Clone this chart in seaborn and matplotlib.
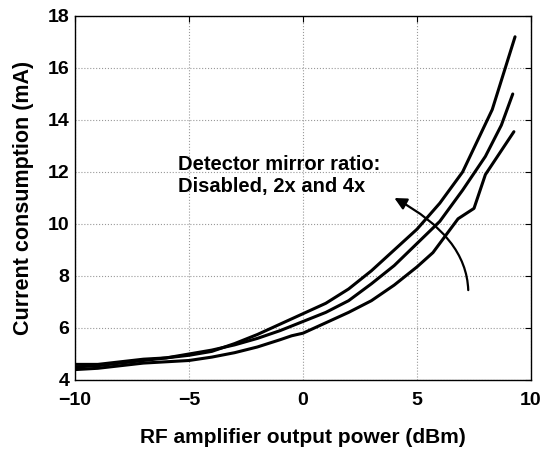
import matplotlib.pyplot as plt
import seaborn as sns
import pandas as pd

# (dBm vs mA)
x_disabled = [-10, -9, -8, -7, -6, -5, -4, -3, -2, -1, 0, 1, 2, 3, 4, 5, 6, 7, 8.3, 9.3]
y_disabled = [4.6, 4.6, 4.7, 4.8, 4.85, 4.95, 5.1, 5.4, 5.75, 6.15, 6.55, 6.95, 7.5, 8.2, 9.0, 9.8, 10.8, 12.0, 14.4, 17.2]

x_2x = [-10, -9, -8, -7, -6, -5, -4, -3, -2, -1, 0, 1, 2, 3, 4, 5, 6, 7, 8, 8.7, 9.2]
y_2x = [4.5, 4.55, 4.65, 4.75, 4.85, 5.0, 5.15, 5.35, 5.6, 5.9, 6.25, 6.6, 7.05, 7.7, 8.4, 9.25, 10.1, 11.3, 12.6, 13.8, 15.0]

x_4x = [-10, -9, -8, -7, -6, -5, -4, -3, -2, -1, -0.5, 0, 1, 2, 3, 4, 5, 5.7, 6.8, 7.5, 8.0, 9.25]
y_4x = [4.4, 4.45, 4.55, 4.65, 4.7, 4.75, 4.88, 5.05, 5.27, 5.55, 5.7, 5.8, 6.2, 6.6, 7.05, 7.65, 8.35, 8.9, 10.2, 10.6, 11.9, 13.55]

df = pd.concat([
    pd.DataFrame({'power': x_disabled, 'current': y_disabled, 'ratio': 'Disabled'}),
    pd.DataFrame({'power': x_2x, 'current': y_2x, 'ratio': '2x'}),
    pd.DataFrame({'power': x_4x, 'current': y_4x, 'ratio': '4x'}),
])

sns.set_style('white')
plt.rcParams['font.family'] = ['Liberation Sans', 'DejaVu Sans']
plt.rcParams['font.weight'] = 'bold'
plt.rcParams['text.color'] = 'black'
plt.rcParams['axes.labelcolor'] = 'black'

fig = plt.figure(figsize=(5.42, 4.49), dpi=100)
ax = fig.add_axes([0.1384, 0.1537, 0.8413, 0.8107])

sns.lineplot(data=df, x='power', y='current', hue='ratio',
             palette=['black', 'black', 'black'], linewidth=2.2,
             legend=False, sort=False, ax=ax)

ax.set_xlim(-10, 10)
ax.set_ylim(4, 18)
ax.set_xticks([-10, -5, 0, 5, 10])
ax.set_yticks([4, 6, 8, 10, 12, 14, 16, 18])
ax.grid(True, linestyle=':', color='#999999', linewidth=0.8)
for s in ax.spines.values():
    s.set_color('black')
    s.set_linewidth(1.0)
    s.set_visible(True)
ax.tick_params(direction='in', top=True, right=True, length=4,
               labelsize=14, colors='black', pad=4)
ax.tick_params(axis='x', pad=9)
for lab in ax.get_xticklabels() + ax.get_yticklabels():
    lab.set_fontweight('bold')

ax.set_xlabel('RF amplifier output power (dBm)', fontsize=15, fontweight='bold', labelpad=13)
ax.set_ylabel('Current consumption (mA)', fontsize=15.5, fontweight='bold', labelpad=10)

ax.text(-5.5, 12.65, 'Detector mirror ratio:\nDisabled, 2x and 4x',
        fontsize=14.5, fontweight='bold', va='top', ha='left', linespacing=1.2)

ax.annotate('', xy=(3.9, 11.05), xytext=(7.25, 7.35),
            arrowprops=dict(arrowstyle='-|>', color='black', lw=1.6,
                            mutation_scale=18,
                            connectionstyle='angle3,angleA=90,angleB=-28'))

fig.savefig('out.png', dpi=100)
